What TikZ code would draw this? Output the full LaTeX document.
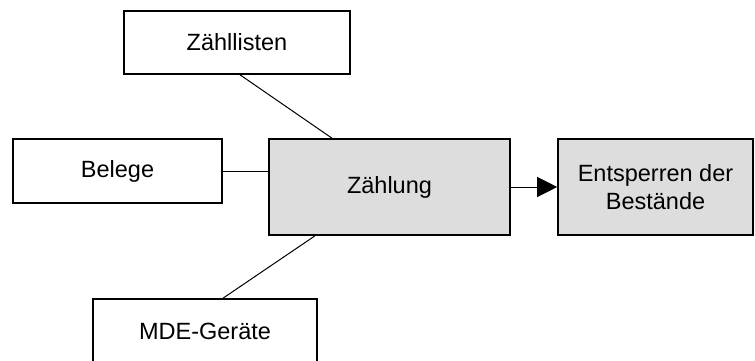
\documentclass[tikz,border=0pt]{standalone}
\usepackage{fontspec}
\setmainfont{Liberation Sans}
\usetikzlibrary{arrows.meta}
\definecolor{boxgray}{RGB}{221,221,221}
\begin{document}
\begin{tikzpicture}[x=1pt,y=1pt,
  plainbox/.style={draw=black, line width=1.6pt, fill=white, inner sep=0pt,
    font=\fontsize{23.5}{28}\selectfont, align=center},
  graybox/.style={plainbox, fill=boxgray},
  conn/.style={draw=black, line width=1pt}]
\useasboundingbox (0,0) rectangle (755,360);
\clip (0,0) rectangle (755,360);
\fill[white] (0,0) rectangle (755,360);
\node[plainbox, minimum width=226pt, minimum height=63pt] (zl) at (237,317.5) {Zähllisten};
\node[plainbox, minimum width=209pt, minimum height=64pt] (bl) at (117.5,189) {Belege};
\node[graybox, minimum width=241pt, minimum height=96pt] (zg) at (389.5,173) {Zählung};
\node[graybox, minimum width=195pt, minimum height=96pt] (es) at (655.5,173) {Entsperren der\\Bestände};
\node[plainbox, minimum width=224pt, minimum height=64pt] (mde) at (205,29) {MDE-Geräte};
\draw[conn] ([xshift=3pt]zl.south) -- ([xshift=-57.5pt]zg.north);
\draw[conn] (bl.east) -- (bl.east -| zg.west);
\draw[conn] ([xshift=18pt]mde.north) -- ([xshift=-74.5pt]zg.south);
\draw[conn, -{Triangle[length=20pt,width=20pt]}] (zg.east) -- (es.west);
\end{tikzpicture}
\end{document}
